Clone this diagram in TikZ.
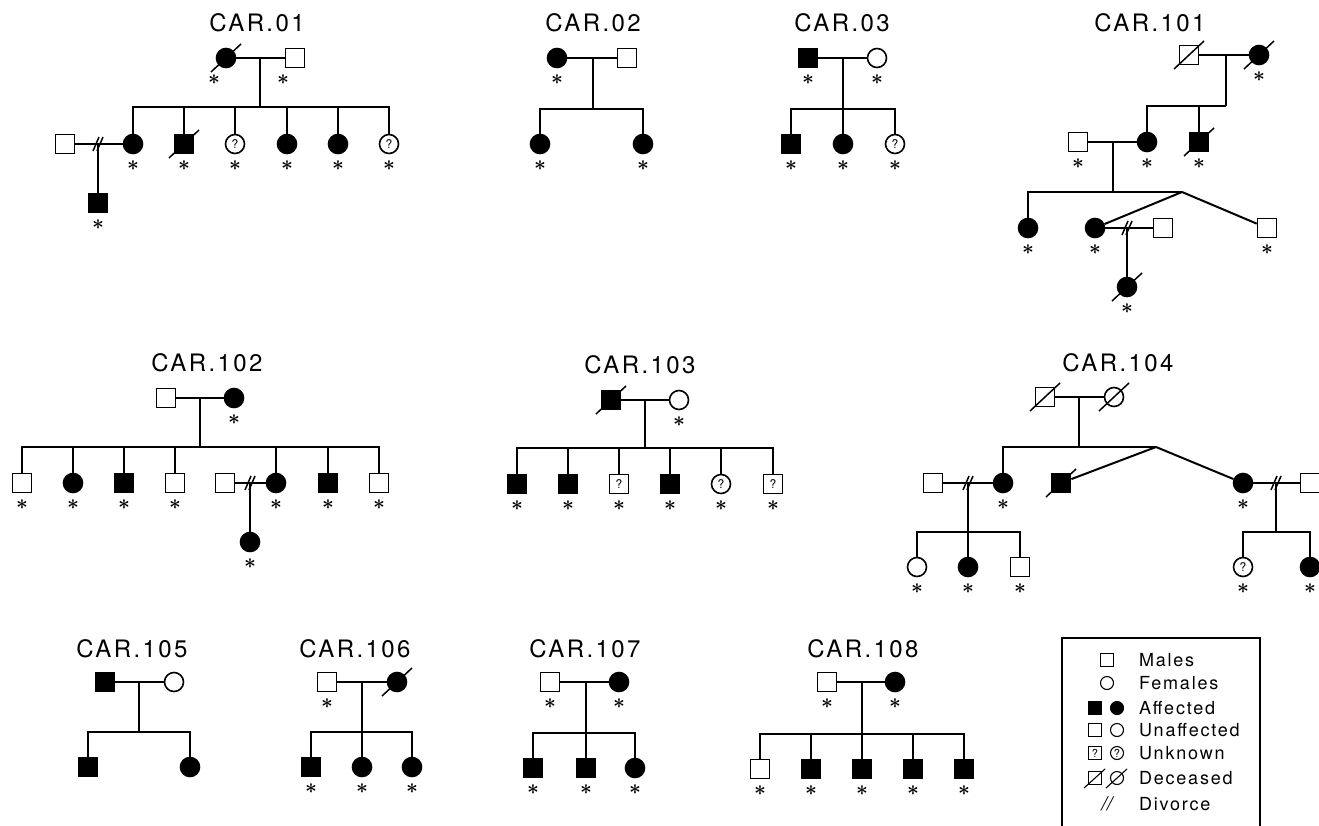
\documentclass[tikz,border=0pt]{standalone}
\usepackage{fontspec}
\setmainfont{TeX Gyre Heros}
\newfontfamily\pedfont{TeX Gyre Heros}[LetterSpace=10]
\usetikzlibrary{positioning}

\tikzset{
  male/.style={draw, rectangle, minimum size=19pt, inner sep=0pt, line width=1.6pt},
  female/.style={draw, circle, minimum size=19pt, inner sep=0pt, line width=1.6pt},
  aff/.style={fill=black},
  unk/.style={font=\fontsize{12}{12}\selectfont},
  exmark/.style={inner sep=0pt, label distance=5pt, font=\fontsize{20}{20}\selectfont\boldmath},
  ex/.style={label={[exmark]below:{$\ast$}}},
  exl/.style={label={[exmark,xshift=-12pt]below:{$\ast$}}},
  title/.style={font=\pedfont\fontsize{24}{26}\selectfont},
  legtext/.style={font=\pedfont\fontsize{18}{20}\selectfont, anchor=west, inner sep=0pt},
  legsym/.style={minimum size=13pt, line width=1.1pt},
  dec/.style={line width=1.5pt},
  divmark/.style={line width=1.5pt}
}

\begin{document}
\begin{tikzpicture}[x=1pt,y=-1pt,line width=2pt]
\useasboundingbox (0,0) rectangle (1319,825);

% CAR.01
\node[title] (t01) at (257,23) {CAR.01};
\node[female,aff,exl] (a1) at (226,58) {};
\node[male,exl] (a2) at (295,58) {};
\coordinate (am1) at (260,58);
\coordinate (as1) at (260,107);
\node[female,aff,ex] (a3) at (133,144) {};
\node[male,aff,ex] (a4) at (184,144) {};
\node[female,unk,ex] (a5) at (235,144) {?};
\node[female,aff,ex] (a6) at (287,144) {};
\node[female,aff,ex] (a7) at (338,144) {};
\node[female,unk,ex] (a8) at (389,144) {?};
\node[male] (a9) at (65,144) {};
\coordinate (am2) at (98,144);
\node[male,aff,ex] (a10) at (98,203) {};
\draw (a1) -- (a2);
\draw (am1) -- (as1);
\draw (a3) |- (as1) -| (a8);
\foreach \k in {a4,a5,a6,a7} \draw (\k) -- (\k |- as1);
\draw (a9) -- (a3);
\draw (am2) -- (a10);

% CAR.02
\node[title] (t02) at (593,23) {CAR.02};
\node[female,aff,ex] (b1) at (557,58) {};
\node[male] (b2) at (627,58) {};
\coordinate (bm1) at (593,58);
\coordinate (bs1) at (593,109);
\node[female,aff,ex] (b3) at (540,144) {};
\node[female,aff,ex] (b4) at (643,144) {};
\draw (b1) -- (b2);
\draw (bm1) -- (bs1);
\draw (b3) |- (bs1) -| (b4);

% CAR.03
\node[title] (t03) at (842,23) {CAR.03};
\node[male,aff,ex] (c1) at (808,58) {};
\node[female,ex] (c2) at (877,58) {};
\coordinate (cm1) at (843,58);
\coordinate (cs1) at (843,109);
\node[male,aff,ex] (c3) at (791,144) {};
\node[female,aff,ex] (c4) at (843,144) {};
\node[female,unk,ex] (c5) at (895,144) {?};
\draw (c1) -- (c2);
\draw (cm1) -- (c4);
\draw (c3) |- (cs1) -| (c5);

% CAR.101
\node[title] (t101) at (1150,23) {CAR.101};
\node[male] (d1) at (1189,55) {};
\node[female,aff,ex] (d2) at (1259,55) {};
\coordinate (dm1) at (1226,55);
\coordinate (ds1) at (1226,106);
\node[female,aff,ex] (d3) at (1147,142) {};
\node[male,aff,ex] (d4) at (1199,142) {};
\node[male,ex] (d5) at (1078,142) {};
\coordinate (dm2) at (1113,142);
\coordinate (ds2) at (1113,192);
\coordinate (dt) at (1182,192);
\node[female,aff,ex] (d6) at (1028,228) {};
\node[female,aff,ex] (d7) at (1095,228) {};
\node[male,ex] (d8) at (1267,228) {};
\node[male] (d9) at (1163,228) {};
\coordinate (dm3) at (1127,228);
\node[female,aff,ex] (d10) at (1127,287) {};
\draw (d1) -- (d2);
\draw (dm1) -- (ds1);
\draw (d3) |- (ds1);
\draw (d4) -- (d4 |- ds1);
\draw (d5) -- (d3);
\draw (dm2) -- (ds2);
\draw (d6) |- (dt);
\draw (dt) -- (d7);
\draw (dt) -- (d8);
\draw (d7) -- (d9);
\draw (dm3) -- (d10);

% CAR.102
\node[title] (t102) at (207,363) {CAR.102};
\node[male] (e1) at (166,398) {};
\node[female,aff,ex] (e2) at (234,398) {};
\coordinate (em1) at (200,398);
\coordinate (es1) at (200,447);
\node[male,ex] (e3) at (22,483) {};
\node[female,aff,ex] (e4) at (73,483) {};
\node[male,aff,ex] (e5) at (124,483) {};
\node[male,ex] (e6) at (175,483) {};
\node[female,aff,ex] (e7) at (276,483) {};
\node[male,aff,ex] (e8) at (328,483) {};
\node[male,ex] (e9) at (379,483) {};
\node[male] (e10) at (225,483) {};
\coordinate (em2) at (250,483);
\node[female,aff,ex] (e11) at (250,542) {};
\draw (e1) -- (e2);
\draw (em1) -- (es1);
\draw (e3) |- (es1) -| (e9);
\foreach \k in {e4,e5,e6,e7,e8} \draw (\k) -- (\k |- es1);
\draw (e10) -- (e7);
\draw (em2) -- (e11);

% CAR.103
\node[title] (t103) at (640,365) {CAR.103};
\node[male,aff] (f1) at (611,400) {};
\node[female,ex] (f2) at (679,400) {};
\coordinate (fm1) at (645,400);
\coordinate (fs1) at (645,448);
\node[male,aff,ex] (f3) at (517,484) {};
\node[male,aff,ex] (f4) at (568,484) {};
\node[male,unk,ex] (f5) at (619,484) {?};
\node[male,aff,ex] (f6) at (670,484) {};
\node[female,unk,ex] (f7) at (721,484) {?};
\node[male,unk,ex] (f8) at (773,484) {?};
\draw (f1) -- (f2);
\draw (fm1) -- (fs1);
\draw (f3) |- (fs1) -| (f8);
\foreach \k in {f4,f5,f6,f7} \draw (\k) -- (\k |- fs1);

% CAR.104
\node[title] (t104) at (1118,363) {CAR.104};
\node[male] (g1) at (1045,397) {};
\node[female] (g2) at (1114,397) {};
\coordinate (gm1) at (1079,397);
\coordinate (gs1) at (1079,447);
\coordinate (gt) at (1156,447);
\node[female,aff,ex] (g3) at (1003,483) {};
\node[male,aff] (g4) at (1061,483) {};
\node[female,aff,ex] (g5) at (1243,483) {};
\node[male] (g6) at (933,483) {};
\coordinate (gm2) at (968,483);
\coordinate (gs2) at (968,532);
\node[female,ex] (g7) at (917,567) {};
\node[female,aff,ex] (g8) at (968,567) {};
\node[male,ex] (g9) at (1020,567) {};
\node[male] (g10) at (1310,483) {};
\coordinate (gm3) at (1276,483);
\coordinate (gs3) at (1276,532);
\node[female,unk,ex] (g11) at (1243,567) {?};
\node[female,aff,ex] (g12) at (1310,567) {};
\draw (g1) -- (g2);
\draw (gm1) -- (gs1);
\draw (g3) |- (gt);
\draw (gt) -- (g4);
\draw (gt) -- (g5);
\draw (g6) -- (g3);
\draw (gm2) -- (g8);
\draw (g7) |- (gs2) -| (g9);
\draw (g5) -- (g10);
\draw (gm3) -- (gs3);
\draw (g11) |- (gs3) -| (g12);

% CAR.105
\node[title] (t105) at (132,649) {CAR.105};
\node[male,aff] (h1) at (105,682) {};
\node[female] (h2) at (174,682) {};
\coordinate (hm1) at (139,682);
\coordinate (hs1) at (139,732);
\node[male,aff] (h3) at (88,767) {};
\node[female,aff] (h4) at (190,767) {};
\draw (h1) -- (h2);
\draw (hm1) -- (hs1);
\draw (h3) |- (hs1) -| (h4);

% CAR.106
\node[title] (t106) at (355,649) {CAR.106};
\node[male,ex] (i1) at (327,682) {};
\node[female,aff] (i2) at (397,682) {};
\coordinate (im1) at (362,682);
\coordinate (is1) at (362,732);
\node[male,aff,ex] (i3) at (311,767) {};
\node[female,aff,ex] (i4) at (362,767) {};
\node[female,aff,ex] (i5) at (412,767) {};
\draw (i1) -- (i2);
\draw (im1) -- (i4);
\draw (i3) |- (is1) -| (i5);

% CAR.107
\node[title] (t107) at (585,649) {CAR.107};
\node[male,ex] (j1) at (550,682) {};
\node[female,aff,ex] (j2) at (619,682) {};
\coordinate (jm1) at (586,682);
\coordinate (js1) at (586,733);
\node[male,aff,ex] (j3) at (533,768) {};
\node[male,aff,ex] (j4) at (586,768) {};
\node[female,aff,ex] (j5) at (635,768) {};
\draw (j1) -- (j2);
\draw (jm1) -- (j4);
\draw (j3) |- (js1) -| (j5);

% CAR.108
\node[title] (t108) at (863,649) {CAR.108};
\node[male,ex] (k1) at (827,682) {};
\node[female,aff,ex] (k2) at (895,682) {};
\coordinate (km1) at (862,682);
\coordinate (ks1) at (862,734);
\node[male,ex] (k3) at (760,769) {};
\node[male,aff,ex] (k4) at (811,769) {};
\node[male,aff,ex] (k5) at (862,769) {};
\node[male,aff,ex] (k6) at (913,769) {};
\node[male,aff,ex] (k7) at (964,769) {};
\draw (k1) -- (k2);
\draw (km1) -- (k5);
\draw (k3) |- (ks1) -| (k7);
\foreach \k in {k4,k6} \draw (\k) -- (\k |- ks1);

% deceased and divorce marks
\foreach \k in {a1,a4,d1,d2,d4,d10,f1,g1,g2,g4,i2}
  \draw[dec] (\k.center) +(-15,14) -- +(15,-14);
\foreach \k in {am2,dm3,em2,gm2,gm3}
  \draw[divmark] (\k) +(-5,7) -- +(1,-7) +(-1,7) -- +(5,-7);

% legend
\draw[line width=1.6pt] (1062,826) |- (1260,638) -- (1260,826);
\node[male,legsym] (l1) at (1107,660) {};
\node[female,legsym] (l2) at (1107,683) {};
\node[male,legsym,aff] (l3) at (1095,708) {};
\node[female,legsym,aff] (l4) at (1117,708) {};
\node[male,legsym] (l5) at (1095,730) {};
\node[female,legsym] (l6) at (1117,730) {};
\node[male,legsym,font=\fontsize{11}{11}\selectfont] (l7) at (1095,753) {?};
\node[female,legsym,font=\fontsize{11}{11}\selectfont] (l8) at (1117,753) {?};
\node[male,legsym] (l9) at (1095,778) {};
\node[female,legsym] (l10) at (1117,778) {};
\node[font=\fontsize{19}{19}\selectfont\itshape,inner sep=0pt] (l11) at (1107,804) {//};
\foreach \k in {l9,l10}
  \draw[line width=1.1pt] (\k.center) +(-11,10) -- +(10,-9);
\node[legtext] (n1) at (1138,660) {Males};
\node[legtext] (n2) at (1138,683) {Females};
\node[legtext] (n3) at (1138,708) {Affected};
\node[legtext] (n4) at (1138,730) {Unaffected};
\node[legtext] (n5) at (1138,753) {Unknown};
\node[legtext] (n6) at (1138,778) {Deceased};
\node[legtext] (n7) at (1138,804) {Divorce};
\end{tikzpicture}
\end{document}
